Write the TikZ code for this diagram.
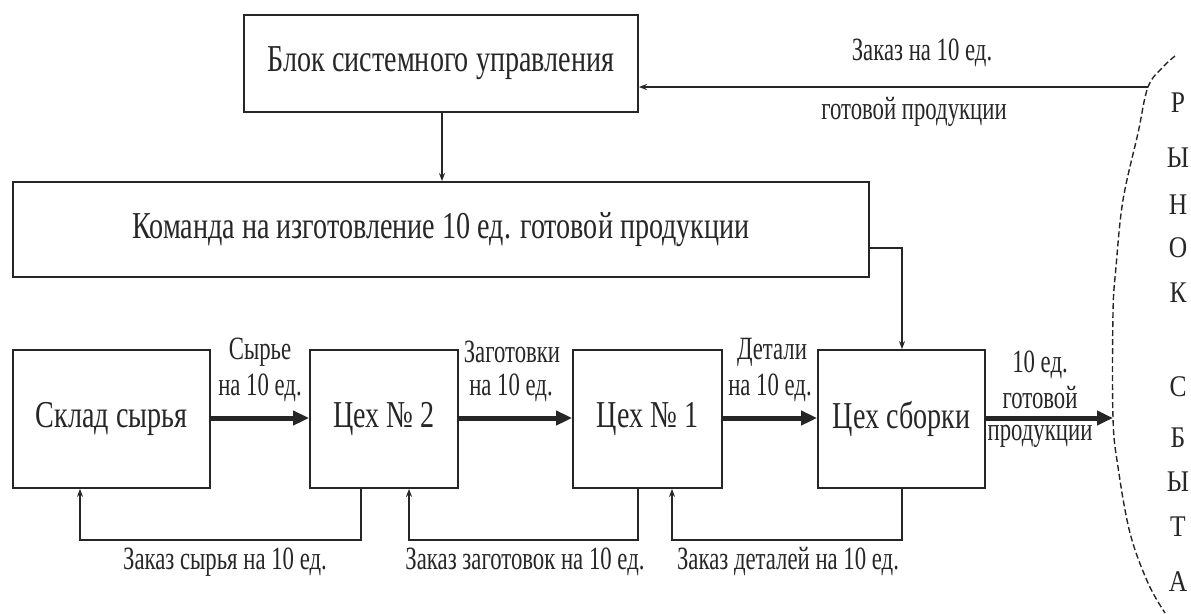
\documentclass[tikz,border=0pt]{standalone}
\usepackage{fontspec}
\setmainfont{Liberation Serif}
\usetikzlibrary{arrows.meta}
\newcommand{\hsq}[1]{\scalebox{0.74}[1]{#1}}
\newcommand{\lsq}[1]{\scalebox{0.70}[1]{#1}}
\begin{document}
\begin{tikzpicture}[x=1pt,y=-1pt,
  box/.style={draw=black!85, line width=1.8pt, inner sep=0pt, font=\fontsize{38}{40}\selectfont, text=black!85},
  lbl/.style={inner sep=0pt, font=\fontsize{32.5}{33}\selectfont, text=black!85},
  mkt/.style={inner sep=0pt, font=\fontsize{30}{30}\selectfont, text=black!85},
  thinarr/.style={draw=black!85, line width=1.8pt, -{Stealth[length=8pt,width=6pt]}},
  thickarr/.style={draw=black!85, line width=5pt, -{Triangle[length=16pt,width=14pt]}},
  mktline/.style={draw=black!85, line width=1.4pt, dash pattern=on 6pt off 3pt}
]
\useasboundingbox (0,0) rectangle (1191,613);

% boxes
\node[box, minimum width=394pt, minimum height=97pt] (blk) at (441,63.5) {\hsq{Блок системного управления}};
\node[box, minimum width=856pt, minimum height=95pt] (cmd) at (441,229.5) {\hsq{Команда на изготовление 10 ед. готовой продукции}};
\node[box, minimum width=197pt, minimum height=138pt] (sklad) at (111.5,419) {\hsq{Склад сырья}};
\node[box, minimum width=148pt, minimum height=138pt] (c2) at (384,419) {\hsq{Цех № 2}};
\node[box, minimum width=149pt, minimum height=138pt] (c1) at (647.5,419) {\hsq{Цех № 1}};
\node[box, minimum width=167pt, minimum height=138pt] (sb) at (901.5,419) {\hsq{Цех сборки}};

% market
\draw[mktline] plot[smooth, tension=0.6] coordinates {(1175,56) (1163,67) (1148,87) (1138,133) (1123,200) (1116,267) (1113,313) (1113,418) (1118,467) (1130,533) (1148,583) (1165,613)};
\coordinate (mkin) at (1113,418);
\coordinate (mkout) at (1148,87);
\foreach \ch/\yy [count=\i] in {Р/103,Ы/158,Н/205,О/248,К/293,С/387,Б/438,Ы/482,Т/527,А/582}{
  \node[mkt] (m\i) at (1178,\yy) {\scalebox{0.85}[1]{\ch}};
}

% connectors top
\draw[thinarr] (blk.south -| 442,0) -- (cmd.north -| 442,0);
\draw[thinarr] (mkout) -- (blk.east |- mkout);
\node[lbl] (lord1) at (922,53) {\lsq{Заказ на 10 ед.}};
\node[lbl] (lord2) at (914,112) {\lsq{готовой продукции}};
\draw[thinarr] (cmd.east |- 0,248) -| (sb.north -| 902,0);

% thick flow arrows
\draw[thickarr] (sklad.east |- 0,418) -- (c2.west |- 0,418);
\draw[thickarr] (c2.east |- 0,418) -- (c1.west |- 0,418);
\draw[thickarr] (c1.east |- 0,418) -- (sb.west |- 0,418);
\draw[thickarr] (sb.east |- 0,418) -- (mkin);

\node[lbl] (l1a) at (260,352) {\lsq{Сырье}};
\node[lbl] (l1b) at (260,388) {\lsq{на 10 ед.}};
\node[lbl] (l2a) at (512,352) {\lsq{Заготовки}};
\node[lbl] (l2b) at (511,388) {\lsq{на 10 ед.}};
\node[lbl] (l3a) at (772,352) {\lsq{Детали}};
\node[lbl] (l3b) at (770,388) {\lsq{на 10 ед.}};
\node[lbl] (l4a) at (1040,365) {\lsq{10 ед.}};
\node[lbl] (l4b) at (1040,398) {\lsq{готовой}};
\node[lbl] (l4c) at (1040,436) {\lsq{продукции}};

% feedback
\draw[thinarr] (c2.south -| 361,0) |- (80,540) -- (sklad.south -| 80,0);
\draw[thinarr] (c1.south -| 638,0) |- (409,540) -- (c2.south -| 409,0);
\draw[thinarr] (sb.south -| 902,0) |- (672,540) -- (c1.south -| 672,0);
\node[lbl] (f1) at (225,562) {\lsq{Заказ сырья на 10 ед.}};
\node[lbl] (f2) at (525,562) {\lsq{Заказ заготовок на 10 ед.}};
\node[lbl] (f3) at (788,562) {\lsq{Заказ деталей на 10 ед.}};
\end{tikzpicture}
\end{document}
